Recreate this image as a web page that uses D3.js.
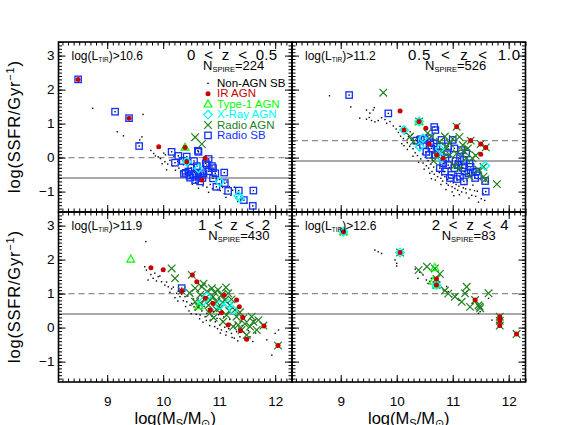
<!DOCTYPE html>
<html>
<head>
<meta charset="utf-8">
<script src="https://cdn.jsdelivr.net/npm/d3@7"></script>
<style>
body{margin:0;background:#fff}
text{font-family:"Liberation Sans",Helvetica,Arial,sans-serif}
</style>
</head>
<body>
<svg id="svg" width="584" height="425"></svg>
<script>
// ---- data: [log Ms, log SSFR] ----
var legendNames = ["Non-AGN SB","IR AGN","Type-1 AGN","X-Ray AGN","Radio AGN","Radio SB"];
var zLabels = ["0  <  z  <  0.5","0.5  <  z  <  1.0","1  <  z  <  2","2  <  z  <  4"];
var ltirLimits = ["10.6","11.2","11.9","12.6"];
var nSpire = [224,526,430,83];
var dashLevels = [0,0.5,1,1];
var solidLevels = [-0.6,-0.1,0.4,0.4];
var xTicks = [9,10,11,12];
var yTicks = [-1,0,1,2,3];

var p1Dots = [[8.74,1.45],[9.64,1.27],[9.18,0.76],[9.29,0.64],[9.62,0.61],[9.58,0.52],[9.55,0.43],
  [9.83,0.12],[9.86,0.05],[9.91,0.02],[9.95,-0.03],[10.01,0.13],[10.04,0.08],[10.03,-0.12],[10.08,-0.19],
  [10.12,-0.08],[10.17,-0.24],[10.22,-0.37],[10.28,-0.31],[10.06,-0.36],[10.31,-0.42],[10.43,-0.47],
  [10.49,-0.61],[10.58,-0.73],[10.71,-0.83],[10.78,-0.87],[10.84,-0.79],[10.88,-0.92],[10.97,-0.94],
  [11.02,-0.97],[11.09,-1.06],[11.21,-1.11],[11.27,-0.87],[11.31,-1.16],[11.36,-1.04],[11.18,-0.85],
  [11.06,-0.88],[10.94,-0.77],[11.14,-0.72],[11.49,-1.34],[11.33,-1.29],[10.36,-0.21],[10.41,-0.33],
  [10.56,-0.44],[10.66,-0.57],[10.69,-0.36],[10.91,-0.55],[11.01,-0.64],[10.19,0.04],[10.26,-0.11],
  [11.24,-0.96],[11.41,-1.22],[10.52,-0.78],[10.63,-0.9],[10.81,-1.02],[11.12,-1.17],[9.78,0.21],[9.98,-0.18]];
var p1IR = [[8.48,2.3],[9.39,1.16],[9.92,0.32],[10.39,0.3],[10.42,-0.12],[10.75,-0.02],[10.69,-0.66]];
var p1Type1 = [[10.39,0.3]];
var p1Xray = [[10.63,-0.32],[11.01,-0.71],[11.34,-1.12],[11.37,-1.2],[10.42,-0.12]];
var p1Radio = [[10.57,0.6],[10.69,0.4]];
var p1RadioSB = [[8.48,2.3],[9.14,1.35],[9.39,1.16],[9.57,0.34],[10.15,0.17],[10.27,0.05],[10.21,-0.15],
  [10.42,0.03],[10.62,0.2],[10.81,-0.04],[10.87,-0.25],[10.76,-0.17],[10.45,-0.41],[10.4,-0.45],[10.54,-0.51],
  [10.63,-0.56],[10.72,-0.46],[10.81,-0.4],[10.93,-0.46],[11.09,-0.44],[10.89,-0.61],[10.95,-0.86],
  [11.16,-0.98],[11.35,-0.97],[11.61,-0.97],[11.44,-1.25],[11.6,-1.42],[10.48,-0.59],[10.57,-0.66],
  [10.66,-0.7],[10.63,0.17],[10.89,-0.31],[10.78,-0.22],[10.37,-0.48],[10.5,-0.3],[10.6,-0.25],
  [10.7,-0.6],[10.35,-0.1],[10.55,-0.1],[11.1,-0.75],[10.47,-0.53],[10.58,-0.47],[10.67,-0.52]];

var p2Dots = [[8.8,1.82],[9.18,1.49],[9.34,1.16],[9.46,1.13],[9.55,1.09],[9.61,1.05],[9.67,1.09],[9.73,1.17],
  [9.58,1.4],[9.52,1.31],[9.82,1.01],[9.88,1.06],[9.6,1.47],[9.46,1.4],[9.51,1.18],[9.79,1.12],
  [9.94,0.93],[9.99,0.84],[10.03,0.74],[10.06,0.92],[10.07,0.63],[10.11,0.79],[10.12,0.56],[10.16,0.71],
  [10.19,0.44],[10.21,0.62],[10.23,0.33],[10.26,0.51],[10.29,0.26],[10.31,0.41],[10.33,0.14],[10.34,0.31],
  [10.37,0.06],[10.41,0.21],[10.43,-0.04],[10.46,0.11],[10.47,-0.16],[10.51,0.01],[10.53,-0.24],[10.56,-0.09],
  [10.57,-0.31],[10.61,-0.19],[10.63,-0.41],[10.66,-0.28],[10.67,-0.49],[10.71,-0.36],[10.73,-0.56],[10.76,-0.44],
  [10.79,-0.61],[10.81,-0.51],[10.82,-0.69],[10.86,-0.56],[10.89,-0.76],[10.91,-0.64],[10.92,-0.81],[10.96,-0.71],
  [10.99,-0.86],[11.01,-0.74],[11.04,-0.91],[11.06,-0.79],[11.09,-0.96],[11.11,-0.84],[11.16,-1.01],[11.19,-0.89],
  [11.24,-1.04],[11.31,-0.94],[11.34,-1.11],[11.41,-1.14],[11.44,-0.99],[11.51,-1.21],[11.54,-1.06],[11.57,-1.26],
  [10.14,0.91],[10.24,0.76],[10.36,0.61],[10.44,0.44],[10.54,0.31],[10.66,0.14],[10.74,-0.01],[10.86,-0.16],
  [10.94,-0.29],[11.06,-0.46],[11.14,-0.61],[11.26,-0.69],[11.36,-0.81],[10.19,0.24],[10.29,0.04],[10.39,-0.14],
  [10.59,-0.46],[10.69,-0.66],[10.79,-0.79],[10.88,-0.94],[10.99,-1.01],[11.12,-1.09],[11.29,-1.19],[11.46,-1.31],
  [10.09,0.41],[10.49,-0.34],[10.84,-0.41],[11.21,-0.79],[10.27,0.68],[10.38,0.36],[10.52,0.16],[10.64,-0.08],
  [10.77,-0.24],[10.97,-0.52],[11.08,-0.66],[11.23,-0.92],[11.39,-0.97],[10.13,0.35],[10.62,-0.62],[11.02,-1.12]];
var p2IR = [[10.06,1.37],[10.13,0.81],[10.4,1.06],[10.52,0.86],[11.07,0.91],[11.32,0.5],[11.5,0.4],[11.59,0.3],
  [11.5,0.1],[10.58,0.4],[10.83,-0.02],[10.72,0.08]];
var p2Type1 = [[10.4,1.06]];
var p2Xray = [[10.13,0.81],[10.4,1.06],[10.41,0.32],[10.47,0.57],[10.8,-0.02],[11.58,-0.24],[10.77,0.25]];
var p2Radio = [[9.76,1.91],[10.4,1.06],[11.07,0.91],[11.32,0.5],[11.5,0.4],[11.59,0.3],[10.77,0.47],[10.86,0.62],
  [10.95,0.42],[11.18,0.37],[11.24,-0.02],[11.35,-0.02],[11.55,-0.27],[10.95,0.08],[10.24,0.62],[10.3,0.47],
  [10.83,0.17],[11.07,0.12],[11.13,-0.31],[11.3,-0.56],[11.55,-0.56],[11.79,-0.78],[11.58,-0.64],[10.72,0.08],
  [11.0,0.55],[11.2,0.2],[10.62,0.62],[10.88,0.33],[11.12,0.61],[11.27,0.27],[10.66,-0.1],[11.41,0.06],
  [11.03,-0.24],[11.46,-0.36],[10.55,0.72]];
var p2RadioSB = [[9.15,1.84],[9.85,1.3],[10.67,0.9],[10.69,0.81],[10.43,0.54],[10.59,0.57],[10.47,0.37],[10.62,0.27],
  [10.8,0.52],[11.0,0.52],[11.03,0.27],[11.15,0.22],[11.24,0.12],[11.13,-0.02],[11.3,-0.17],[11.42,-0.41],
  [11.21,-0.41],[10.98,-0.51],[11.03,-0.31],[10.83,-0.17],[10.77,-0.31],[10.92,-0.22],[11.13,-0.56],[11.28,-0.46],
  [11.32,-0.27],[10.53,0.17],[10.68,0.08],[10.71,0.32],[11.59,-1.0],[11.58,-0.69],[10.35,0.5],[10.9,0.1],
  [11.05,-0.1],[10.95,-0.6],[11.2,-0.7],[11.4,-0.6],[10.6,0.45],[10.5,0.52],[10.58,0.08],[10.74,0.16],
  [10.87,-0.02],[11.1,-0.22],[11.2,-0.07],[11.36,-0.43],[11.08,-0.63],[10.86,-0.41],[10.66,0.42],[10.92,0.33],
  [11.18,-0.3],[11.45,-0.52]];

var p3Dots = [[9.69,2.53],[9.67,1.79],[9.7,1.69],[9.73,1.4],[9.82,1.45],[9.85,1.6],[9.91,1.5],[9.97,1.35],
  [10.03,1.25],[10.09,1.2],[10.15,1.14],[10.24,1.01],[10.3,0.91],[10.39,0.91],[10.42,0.76],[10.48,0.66],
  [10.57,0.52],[10.66,0.37],[10.75,0.32],[10.84,0.22],[10.93,0.17],[11.01,0.07],[11.1,0.01],[11.04,-0.07],
  [11.13,-0.12],[11.22,-0.17],[11.31,-0.12],[11.37,-0.27],[11.46,-0.32],[11.55,-0.27],[12.0,-0.17],[12.06,-0.07],
  [11.85,-0.36],[11.94,-0.81],[11.62,0.2],[11.65,-0.16],[9.88,1.37],[9.94,1.52],[10.06,1.34],[10.18,1.19],
  [9.78,1.56],[10.12,1.04],[10.21,0.88],[10.27,1.07],[10.36,0.79],[10.44,0.93],[10.51,0.71],[10.54,0.84],
  [10.61,0.58],[10.63,0.76],[10.69,0.49],[10.72,0.64],[10.78,0.42],[10.81,0.56],[10.87,0.34],[10.9,0.47],
  [10.96,0.27],[10.99,0.38],[11.06,0.19],[11.08,0.31],[11.16,0.12],[11.19,0.24],[11.26,0.04],[11.29,0.14],
  [11.35,-0.04],[11.41,0.06],[11.44,-0.14],[11.52,-0.09],[10.46,0.49],[10.59,0.39],[10.71,0.16],[10.83,0.06],
  [10.97,-0.03],[11.12,-0.22],[11.27,-0.31],[11.6,-0.41],[10.33,0.99],[10.4,0.62],[10.55,0.61],[10.65,0.26],
  [10.77,0.21],[10.92,0.03],[11.02,-0.16],[11.17,-0.03],[11.23,-0.29],[11.33,-0.39],[10.26,0.78],[10.5,0.41]];
var p3IR = [[9.78,1.76],[10.0,1.7],[10.52,1.55],[10.6,1.35],[10.75,0.86],[10.84,0.52],[10.89,0.71],[11.09,0.96],
  [11.04,0.44],[11.31,0.81],[11.36,0.61],[11.42,0.3],[11.16,0.08],[11.38,-0.09],[11.49,-0.34],[11.8,0.05],
  [12.05,-0.53],[10.33,1.08]];
var p3Type1 = [[9.42,2.01],[10.64,0.64]];
var p3Xray = [[10.78,0.91],[11.01,0.66],[11.25,0.52],[11.16,0.71],[10.7,0.75]];
var p3Radio = [[10.15,1.74],[10.21,1.45],[10.51,1.55],[10.57,1.16],[10.69,1.2],[10.78,1.06],[10.66,0.96],
  [10.87,1.16],[10.98,1.11],[11.04,0.96],[11.16,1.01],[11.1,0.81],[10.95,0.76],[10.75,0.86],[10.57,0.76],
  [10.63,0.61],[10.81,0.66],[11.01,0.57],[11.19,0.66],[11.28,0.52],[11.13,0.37],[11.31,0.32],[11.43,0.27],
  [11.34,0.08],[11.58,0.32],[11.61,0.17],[11.67,-0.07],[11.55,0.03],[11.4,-0.07],[11.49,-0.22],[11.79,0.06],
  [10.89,0.91],[10.83,0.42],[11.07,0.17],[11.25,0.03],[12.05,-0.53],[10.33,1.08],[10.72,1.29],[10.92,1.03],
  [10.84,0.81],[11.06,0.74],[11.22,0.83],[10.68,0.71],[10.95,0.53],[11.18,0.49],[11.37,0.45],[10.9,0.29],
  [11.46,0.11],[11.7,0.22],[10.47,1.02],[11.12,1.18]];
var p3RadioSB = [[10.33,1.16]];

var p4Dots = [[9.61,2.28],[9.67,2.23],[9.73,2.18],[9.97,1.99],[10.0,1.89],[10.0,1.81],[10.33,1.72],[10.41,1.63],
  [10.47,1.55],[10.53,1.4],[10.59,1.36],[10.62,1.45],[10.66,1.26],[10.83,1.11],[10.92,1.06],[10.98,0.91],
  [11.06,0.96],[11.12,0.81],[11.25,1.06],[11.36,0.71],[11.46,0.42],[11.49,0.47],[11.64,0.86],[11.7,0.22],
  [11.84,0.02],[10.38,1.45],[10.56,1.3],[10.89,1.21]];
var p4IR = [[9.05,2.82],[10.06,2.21],[10.71,1.43],[10.71,1.25],[11.4,0.81],[11.84,0.32],[11.84,0.2],[11.84,0.06],[12.14,-0.19]];
var p4Type1 = [[9.05,2.82],[10.68,1.76],[10.65,1.36],[10.71,1.25]];
var p4Xray = [[9.05,2.82],[10.06,2.21],[10.71,1.25]];
var p4Radio = [[9.05,2.82],[10.06,2.21],[10.39,1.69],[10.54,1.79],[10.68,1.74],[10.77,1.58],[10.71,1.43],[10.71,1.25],
  [10.86,1.09],[11.04,0.91],[11.16,0.76],[11.25,1.2],[11.22,1.01],[11.4,0.81],[11.31,0.61],[11.46,0.66],
  [11.49,0.57],[11.48,0.62],[11.64,1.01],[11.84,0.32],[11.84,0.2],[11.84,0.06],[12.14,-0.19],[10.92,1.0]];
var p4RadioSB = [];

// ---- layout ----
var colors = {dot:"#000", ir:"#c80000", t1:"#00ff00", xr:"#00ffff", radio:"#1e801e", sb:"#1030ff"};
var legendColors = [colors.dot, colors.ir, colors.t1, colors.xr, colors.radio, colors.sb];
var padL = 58.5, padT = 42, W = 233.5, H = 170;
var xDom = [8.13, 12.3], yDom = [-1.6, 3.4];
// per panel: z label start and width, N_SPIRE start
var annot = [{zx:128.5, zw:90, nx:144.5}, {zx:116, zw:112, nx:133},
             {zx:139.5, zw:72, nx:149.8}, {zx:139.7, zw:77, nx:149.7}];

var panels = [
  {dots:p1Dots, ir:p1IR, t1:p1Type1, xr:p1Xray, radio:p1Radio, sb:p1RadioSB},
  {dots:p2Dots, ir:p2IR, t1:p2Type1, xr:p2Xray, radio:p2Radio, sb:p2RadioSB},
  {dots:p3Dots, ir:p3IR, t1:p3Type1, xr:p3Xray, radio:p3Radio, sb:p3RadioSB},
  {dots:p4Dots, ir:p4IR, t1:p4Type1, xr:p4Xray, radio:p4Radio, sb:p4RadioSB}
];

var svg = d3.select("#svg");
var xS = d3.scaleLinear().domain(xDom).range([0, W]);
var yS = d3.scaleLinear().domain(yDom).range([H, 0]);
var minX = d3.range(82, 124).map(d => d/10);
var minY = d3.range(-15, 35).map(d => d/10);

var crossPath = "M-3.8,-3.8L3.8,3.8M-3.8,3.8L3.8,-3.8";
var triPath = "M0,-4.2L3.9,2.8L-3.9,2.8Z";
var diaPath = "M0,-4.3L4.3,0L0,4.3L-4.3,0Z";

function styleAxis(a){
  a.select(".domain").remove();
  a.selectAll("line").attr("stroke", "#000").attr("stroke-width", 1);
  a.attr("font-family", null).attr("font-size", 13.5);
  a.selectAll("text").attr("fill", "#000");
}

function addTicks(g, showX, showY){
  // minor ticks all sides, inward
  g.append("g").attr("transform", `translate(0,${H})`).call(d3.axisBottom(xS).tickValues(minX).tickSize(-3.5).tickFormat("")).call(styleAxis);
  g.append("g").call(d3.axisTop(xS).tickValues(minX).tickSize(-3.5).tickFormat("")).call(styleAxis);
  g.append("g").call(d3.axisLeft(yS).tickValues(minY).tickSize(-3.5).tickFormat("")).call(styleAxis);
  g.append("g").attr("transform", `translate(${W},0)`).call(d3.axisRight(yS).tickValues(minY).tickSize(-3.5).tickFormat("")).call(styleAxis);
  // major ticks
  g.append("g").attr("transform", `translate(0,${H})`)
    .call(d3.axisBottom(xS).tickValues(xTicks).tickSize(-7).tickPadding(14).tickFormat(showX ? d3.format("d") : ""))
    .call(styleAxis);
  g.append("g").call(d3.axisTop(xS).tickValues(xTicks).tickSize(-7).tickFormat("")).call(styleAxis);
  g.append("g")
    .call(d3.axisLeft(yS).tickValues(yTicks).tickSize(-7).tickPadding(4).tickFormat(showY ? d3.format("d") : ""))
    .call(styleAxis);
  g.append("g").attr("transform", `translate(${W},0)`).call(d3.axisRight(yS).tickValues(yTicks).tickSize(-7).tickFormat("")).call(styleAxis);
}

panels.forEach(function(p, i){
  var col = i % 2, row = Math.floor(i / 2);
  var g = svg.append("g").attr("class", "panel").attr("transform", `translate(${padL + col*W},${padT + row*H})`);

  // reference lines
  g.append("line").attr("x1", 0).attr("x2", W)
    .attr("y1", yS(dashLevels[i])).attr("y2", yS(dashLevels[i]))
    .attr("stroke", "#8c8c8c").attr("stroke-width", 1.4).attr("stroke-dasharray", "6,4");
  g.append("line").attr("x1", 0).attr("x2", W)
    .attr("y1", yS(solidLevels[i])).attr("y2", yS(solidLevels[i]))
    .attr("stroke", "#8c8c8c").attr("stroke-width", 1.4);

  // non-AGN SB dots (radio SB also carry a dot)
  g.append("g").selectAll("rect").data(p.dots.concat(p.sb)).enter().append("rect")
    .attr("x", d => xS(d[0]) - 0.7).attr("y", d => yS(d[1]) - 0.7)
    .attr("width", 1.4).attr("height", 1.4).attr("fill", colors.dot);

  g.append("g").selectAll("rect").data(p.sb).enter().append("rect")
    .attr("x", d => xS(d[0]) - 3.2).attr("y", d => yS(d[1]) - 3.2)
    .attr("width", 6.4).attr("height", 6.4)
    .attr("fill", "none").attr("stroke", colors.sb).attr("stroke-width", 1.3);

  g.append("g").selectAll("path").data(p.radio).enter().append("path")
    .attr("d", crossPath).attr("transform", d => `translate(${xS(d[0])},${yS(d[1])})`)
    .attr("fill", "none").attr("stroke", colors.radio).attr("stroke-width", 1.2);

  g.append("g").selectAll("path").data(p.t1).enter().append("path")
    .attr("d", triPath).attr("transform", d => `translate(${xS(d[0])},${yS(d[1])})`)
    .attr("fill", "none").attr("stroke", colors.t1).attr("stroke-width", 1.2);

  g.append("g").selectAll("path").data(p.xr).enter().append("path")
    .attr("d", diaPath).attr("transform", d => `translate(${xS(d[0])},${yS(d[1])})`)
    .attr("fill", "none").attr("stroke", colors.xr).attr("stroke-width", 1.3);

  g.append("g").selectAll("circle").data(p.ir).enter().append("circle")
    .attr("cx", d => xS(d[0])).attr("cy", d => yS(d[1])).attr("r", 2.5)
    .attr("fill", colors.ir);

  addTicks(g, row === 1, col === 0);

  g.append("rect").attr("width", W).attr("height", H)
    .attr("fill", "none").attr("stroke", "#000").attr("stroke-width", 1.6);

  // annotations
  var lt = g.append("text").attr("x", 13).attr("y", 17.5).style("font-size", "12px");
  lt.append("tspan").text("log(L");
  lt.append("tspan").attr("dy", 2.5).style("font-size", "6.5px").text("TIR");
  lt.append("tspan").attr("dy", -2.5).text(")>" + ltirLimits[i]);

  g.append("text").attr("x", annot[i].zx).attr("y", 17.5)
    .attr("textLength", annot[i].zw).attr("lengthAdjust", "spacing")
    .style("font-size", "15px").style("white-space", "pre")
    .text(zLabels[i]);

  var nt = g.append("text").attr("x", annot[i].nx).attr("y", 28.2).style("font-size", "13px");
  nt.append("tspan").text("N");
  nt.append("tspan").attr("dy", 2.2).style("font-size", "7.5px").text("SPIRE");
  nt.append("tspan").attr("dy", -2.2).text("=" + nSpire[i]);

  // legend in first panel
  if (i === 0){
    var lg = g.append("g").attr("transform", "translate(149.5,45)");
    legendNames.forEach(function(name, k){
      var y = k * 10.4;
      var s = lg.append("g").attr("transform", `translate(0,${y - 3.6})`);
      if (k === 0) s.append("rect").attr("x", -0.7).attr("y", -0.7).attr("width", 1.4).attr("height", 1.4).attr("fill", colors.dot);
      if (k === 1) s.append("circle").attr("r", 2.5).attr("fill", colors.ir);
      if (k === 2) s.append("path").attr("d", triPath).attr("fill", "none").attr("stroke", colors.t1).attr("stroke-width", 1.2);
      if (k === 3) s.append("path").attr("d", diaPath).attr("fill", "none").attr("stroke", colors.xr).attr("stroke-width", 1.3);
      if (k === 4) s.append("path").attr("d", crossPath).attr("fill", "none").attr("stroke", colors.radio).attr("stroke-width", 1.2);
      if (k === 5) s.append("rect").attr("x", -3.2).attr("y", -3.2).attr("width", 6.4).attr("height", 6.4).attr("fill", "none").attr("stroke", colors.sb).attr("stroke-width", 1.3);
      lg.append("text").attr("x", 9).attr("y", y).style("font-size", "11.5px")
        .attr("fill", legendColors[k]).text(name);
    });
  }
});

// axis titles
[0, 1].forEach(function(row){
  var t = svg.append("text")
    .attr("transform", `translate(20,${padT + row*H + H/2}) rotate(-90)`)
    .attr("text-anchor", "middle").style("font-size", "16.5px")
    .attr("textLength", 132).attr("lengthAdjust", "spacing");
  t.append("tspan").text("log(SSFR/Gyr");
  t.append("tspan").attr("dy", -6).style("font-size", "11px").text("\u22121");
  t.append("tspan").attr("dy", 6).text(")");
});
[0, 1].forEach(function(col){
  var t = svg.append("text")
    .attr("x", padL + col*W + W/2).attr("y", 423.5)
    .attr("text-anchor", "middle").style("font-size", "16.5px");
  t.append("tspan").text("log(M");
  t.append("tspan").attr("dy", 3).style("font-size", "11px").text("S");
  t.append("tspan").attr("dy", -3).text("/M");
  t.append("tspan").attr("dy", 3).style("font-size", "11px").text("\u2299");
  t.append("tspan").attr("dy", -3).text(")");
});
</script>
</body>
</html>
